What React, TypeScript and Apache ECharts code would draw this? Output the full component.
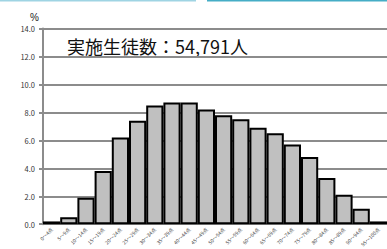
import React, { useEffect, useRef } from "react";
import * as echarts from "echarts";

const categories = [
  "0～4点", "5～9点", "10～14点", "15～19点", "20～24点", "25～29点", "30～34点",
  "35～39点", "40～44点", "45～49点", "50～54点", "55～59点", "60～64点", "65～69点",
  "70～74点", "75～79点", "80～84点", "85～89点", "90～94点", "95～100点",
];
const values = [0.2, 0.5, 1.9, 3.8, 6.2, 7.4, 8.5, 8.7, 8.7, 8.2, 7.8, 7.5, 6.9, 6.5, 5.7, 4.8, 3.3, 2.1, 1.1, 0.2];
const yTicks = { min: 0, max: 14, interval: 2 };
const titleText = "実施生徒数：54,791人";
const unitText = "%";

export default function App() {
  const ref = useRef<HTMLDivElement>(null);
  useEffect(() => {
    if (!ref.current) return;
    const chart = echarts.init(ref.current, undefined, { renderer: "svg" });
    chart.setOption({
      animation: false,
      backgroundColor: "#fff",
      textStyle: { fontFamily: "Noto Sans CJK JP, Noto Sans, sans-serif" },
      grid: { left: 43, right: -10, top: 28.5, bottom: 21, containLabel: false },
      xAxis: {
        type: "category",
        data: categories,
        axisLine: { show: true, lineStyle: { color: "#8c8c8c", width: 2 } },
        axisTick: { show: false },
        axisLabel: { interval: 0, rotate: 45, fontSize: 5, color: "#444", margin: 4 },
      },
      yAxis: {
        type: "value",
        min: yTicks.min,
        max: yTicks.max,
        interval: yTicks.interval,
        axisLine: { show: true, lineStyle: { color: "#8c8c8c", width: 2 } },
        axisTick: { show: true, length: 4, lineStyle: { color: "#8c8c8c", width: 2 } },
        axisLabel: { fontSize: 7.5, color: "#333", margin: 8, formatter: (v: number) => v.toFixed(1) },
        splitLine: { show: true, lineStyle: { color: "#8c8c8c", width: 2 } },
      },
      series: [
        {
          type: "bar",
          data: values,
          barWidth: "100%",
          barCategoryGap: "0%",
          itemStyle: { color: "#c0c0c0", borderColor: "#000", borderWidth: 2 },
        },
      ],
      graphic: [
        { type: "line", shape: { x1: 0, y1: 0.5, x2: 196, y2: 0.5 }, style: { stroke: "#9fd4e3", lineWidth: 2 } },
        { type: "line", shape: { x1: 207, y1: 0.5, x2: 387, y2: 0.5 }, style: { stroke: "#45adc6", lineWidth: 2 } },
        { type: "text", x: 30, y: 17, style: { text: unitText, fontSize: 10, fill: "#222", textAlign: "left", textVerticalAlign: "middle" } },
        { type: "text", x: 67, y: 46, style: { text: titleText, fontSize: 18, fill: "#111", textAlign: "left", textVerticalAlign: "middle", fontFamily: "Noto Sans CJK JP" } },
      ],
    });
    return () => chart.dispose();
  }, []);
  return <div ref={ref} style={{ position: "fixed", left: 0, top: 0, width: 387, height: 249 }} />;
}
